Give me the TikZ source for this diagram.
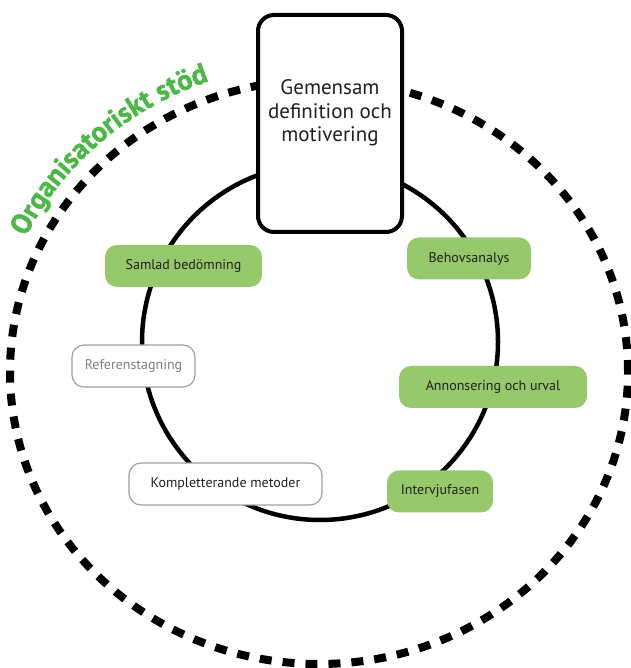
\documentclass[tikz,border=0pt]{standalone}
\usepackage{fontspec}
\setmainfont{PT Sans}
\newfontfamily\supportfont[FakeBold=1.5]{PT Sans Bold}
\usetikzlibrary{decorations.text}

\definecolor{phasegreen}{RGB}{149,201,108}
\definecolor{supportgreen}{RGB}{77,184,72}
\definecolor{phasetext}{RGB}{35,31,32}
\definecolor{phasegray}{RGB}{160,160,160}

\tikzset{
  phase/.style={rounded corners=12pt, minimum height=42pt, inner sep=0pt,
    font=\fontsize{14}{16}\selectfont, text=phasetext},
  greenphase/.style={phase, fill=phasegreen},
  whitephase/.style={phase, fill=white, draw=phasegray, line width=1.2pt},
  startbox/.style={draw, fill=white, line width=4pt, rounded corners=16pt,
    minimum width=144pt, minimum height=217pt, inner sep=0pt,
    font=\fontsize{21}{23.5}\selectfont, text=phasetext}
}

\begin{document}
\begin{tikzpicture}[x=1pt,y=1pt]

\useasboundingbox (0,0) rectangle (630,668) ;

\draw[line width=8pt, dash pattern=on 12pt off 11pt] (319,296) ellipse [x radius=309, y radius=292] ;
\draw[line width=4.5pt] (320,326) circle [radius=178] ;

\node[greenphase, minimum width=124pt] (behov) at (469,409.5) {Behovsanalys} ;
\node[greenphase, minimum width=188pt] (annons) at (493,281) {Annonsering och urval} ;
\node[greenphase, minimum width=106pt] (interv) at (440,176.5) {Intervjufasen} ;
\node[whitephase, minimum width=193pt] (kompl) at (225.5,184) {Kompletterande metoder} ;
\node[whitephase, minimum width=123pt, text=gray] (ref) at (133.5,302) {Referenstagning} ;
\node[greenphase, minimum width=157pt] (samlad) at (183.5,402) {Samlad bedömning} ;

\node[startbox] (gemensam) at (330,544.5)
  {\begin{tabular}{@{}c@{}}Gemensam\\definition och\\motivering\\[20pt]\end{tabular}} ;

\path[decorate, decoration={text along path, text align=center,
    text={|\supportfont\fontsize{28.5}{28.5}\selectfont\color{supportgreen}|Organisatoriskt stöd}}]
  (319,296) ++(160:326 and 309) arc [start angle=160, end angle=104, x radius=326, y radius=309] ;

\end{tikzpicture}
\end{document}
